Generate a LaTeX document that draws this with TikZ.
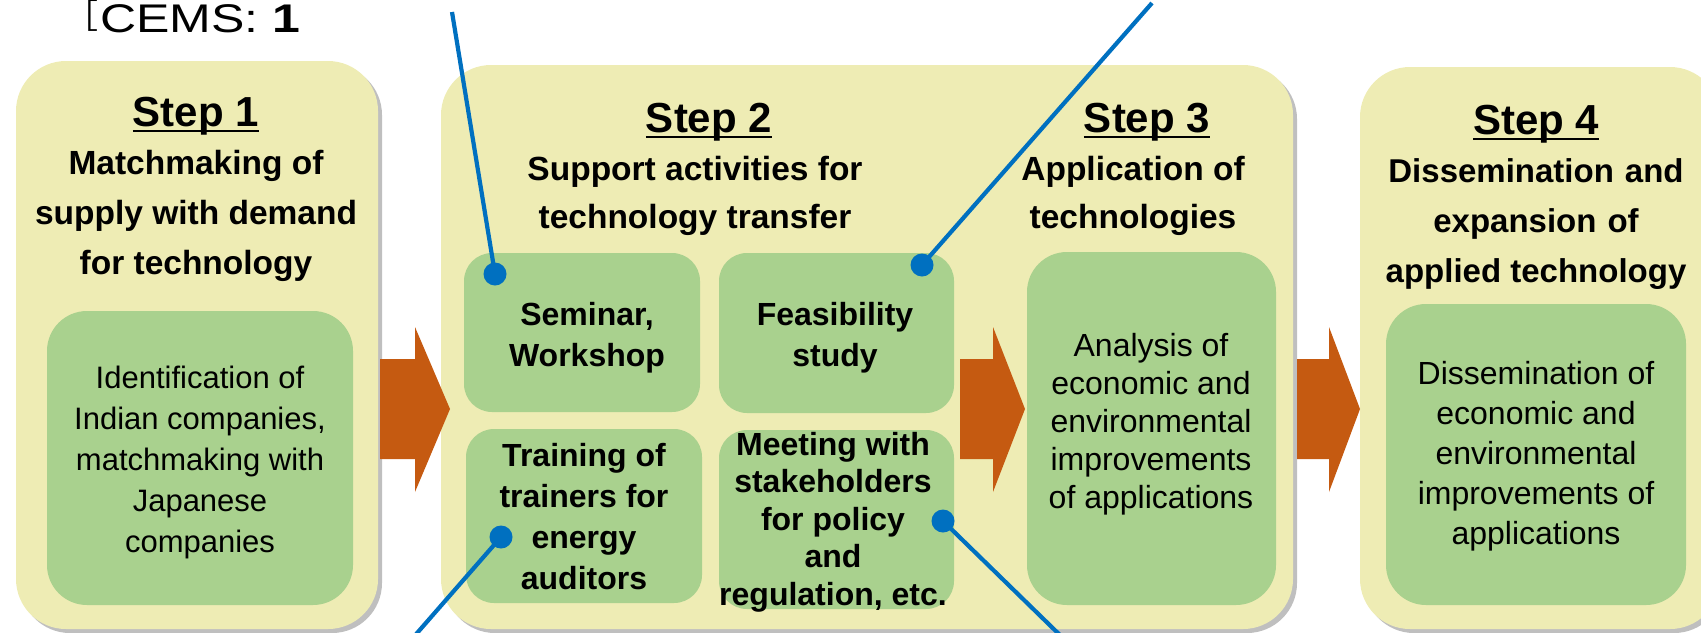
\documentclass[tikz,border=0pt]{standalone}
\usepackage{fontspec}
\setmainfont{Liberation Sans}
\newfontfamily\cjkfont{Noto Sans CJK JP}
\newfontfamily\cemsfont[FakeStretch=1.25]{Liberation Sans}
\usetikzlibrary{shadows}

\definecolor{stepyellow}{RGB}{238,236,180}
\definecolor{stepgreen}{RGB}{169,209,142}
\definecolor{arroworange}{RGB}{197,90,17}
\definecolor{calloutblue}{RGB}{0,112,192}

\newcommand{\stephead}[1]{\setbox0\hbox{#1}\rlap{\rule[-3pt]{\wd0}{1.1pt}}\box0}

\tikzset{
  stepbox/.style={fill=stepyellow,rounded corners=25pt,
    drop shadow={shadow xshift=2pt,shadow yshift=-2pt,opacity=0.25,fill=black}},
  greenbox/.style={fill=stepgreen,rounded corners=#1},
  headtext/.style={anchor=base,font=\fontsize{21}{25}\selectfont\bfseries},
  boldtext/.style={align=center,font=\fontsize{16.75}{25}\selectfont\bfseries},
  smalltext/.style={align=center,font=\fontsize{16}{20.5}\selectfont\bfseries},
  plaintext/.style={align=center,font=\fontsize{16}{20}\selectfont},
  calldot/.style={circle,fill=calloutblue,inner sep=0pt,minimum size=11.5pt},
  callout/.style={calloutblue,line width=2.1pt}
}

\begin{document}
\begin{tikzpicture}[x=0.5pt,y=-0.5pt]
  \useasboundingbox (0,0) rectangle (1701,632);

  % yellow step panels
  \path[stepbox] (16,61) rectangle (378,629);
  \path[stepbox] (441,65) rectangle (1293,629);
  \path[stepbox] (1360,67) rectangle (1720,629);

  % green boxes
  \fill[greenbox=20pt] (47,311) rectangle (353,605);
  \fill[greenbox=14pt] (464,253) rectangle (700,412);
  \fill[greenbox=14pt] (719,253) rectangle (954,413);
  \fill[greenbox=14pt] (466,429) rectangle (702,603);
  \fill[greenbox=14pt] (719,430) rectangle (954,609);
  \fill[greenbox=20pt] (1027,252) rectangle (1276,605);
  \fill[greenbox=20pt] (1386,304) rectangle (1686,605);

  % orange arrows
  \fill[arroworange] (380,359) -- (415,359) -- (415,327) -- (450,409) -- (415,492) -- (415,459) -- (380,459) -- cycle;
  \fill[arroworange] (960,359) -- (993,359) -- (993,327) -- (1025,409) -- (993,492) -- (993,459) -- (960,459) -- cycle;
  \fill[arroworange] (1297,359) -- (1329,359) -- (1329,327) -- (1360,409) -- (1329,492) -- (1329,459) -- (1297,459) -- cycle;

  % top label
  \node[anchor=base west,inner sep=0pt] (cems) at (64,32)
    {{\cjkfont\fontsize{17}{17}\selectfont\raisebox{2pt}{［}}\kern1pt\cemsfont\fontsize{20}{22}\selectfont CEMS: \textbf{1}};

  % headings
  \node[headtext] (head1) at (196,126) {\stephead{Step 1}};
  \node[headtext] (head2) at (709,132) {\stephead{Step 2}};
  \node[headtext] (head3) at (1147,132) {\stephead{Step 3}};
  \node[headtext] (head4) at (1536,134) {\stephead{Step 4}};

  \node[boldtext] (title1) at (196,216) {Matchmaking of\\supply with demand\\for technology};
  \node[boldtext,font=\fontsize{16.75}{24}\selectfont\bfseries] (title2) at (695,196) {Support activities for\\technology transfer};
  \node[boldtext,font=\fontsize{16.75}{24}\selectfont\bfseries] (title3) at (1133,196) {Application of\\technologies};
  \node[boldtext,font=\fontsize{16.5}{25}\selectfont\bfseries] (title4) at (1536,224) {Dissemination\,\,and\\expansion\,\,of\\applied technology};

  % box texts
  \node[plaintext,font=\fontsize{15.5}{20.5}\selectfont] (ident) at (200,462)
    {Identification of\\Indian companies,\\matchmaking with\\Japanese\\companies};
  \node[smalltext] (seminar) at (587,338) {Seminar,\\Workshop};
  \node[smalltext] (feas) at (835,338) {Feasibility\\study};
  \node[smalltext] (training) at (584,517) {Training of\\trainers for\\energy\\auditors};
  \node[smalltext,font=\fontsize{16}{18.7}\selectfont\bfseries] (meeting) at (833,522)
    {Meeting with\\stakeholders\\for policy\\and\\regulation, etc.};
  \node[plaintext,font=\fontsize{16}{19}\selectfont] (analysis) at (1151,424)
    {Analysis of\\economic and\\environmental\\improvements\\of applications};
  \node[plaintext] (dissem) at (1536,456)
    {Dissemination of\\economic and\\environmental\\improvements of\\applications};

  % blue callouts
  \node[calldot] (dot1) at (495,274) {};
  \node[calldot] (dot2) at (922,265) {};
  \node[calldot] (dot3) at (501,537) {};
  \node[calldot] (dot4) at (943,521) {};
  \coordinate (end1) at (452,12);
  \coordinate (end2) at (1152,3);
  \coordinate (end3) at (411,640);
  \coordinate (end4) at (1065,640);
  \draw[callout] (dot1.center) -- (end1);
  \draw[callout] (dot2.center) -- (end2);
  \draw[callout] (dot3.center) -- (end3);
  \draw[callout] (dot4.center) -- (end4);
\end{tikzpicture}
\end{document}
